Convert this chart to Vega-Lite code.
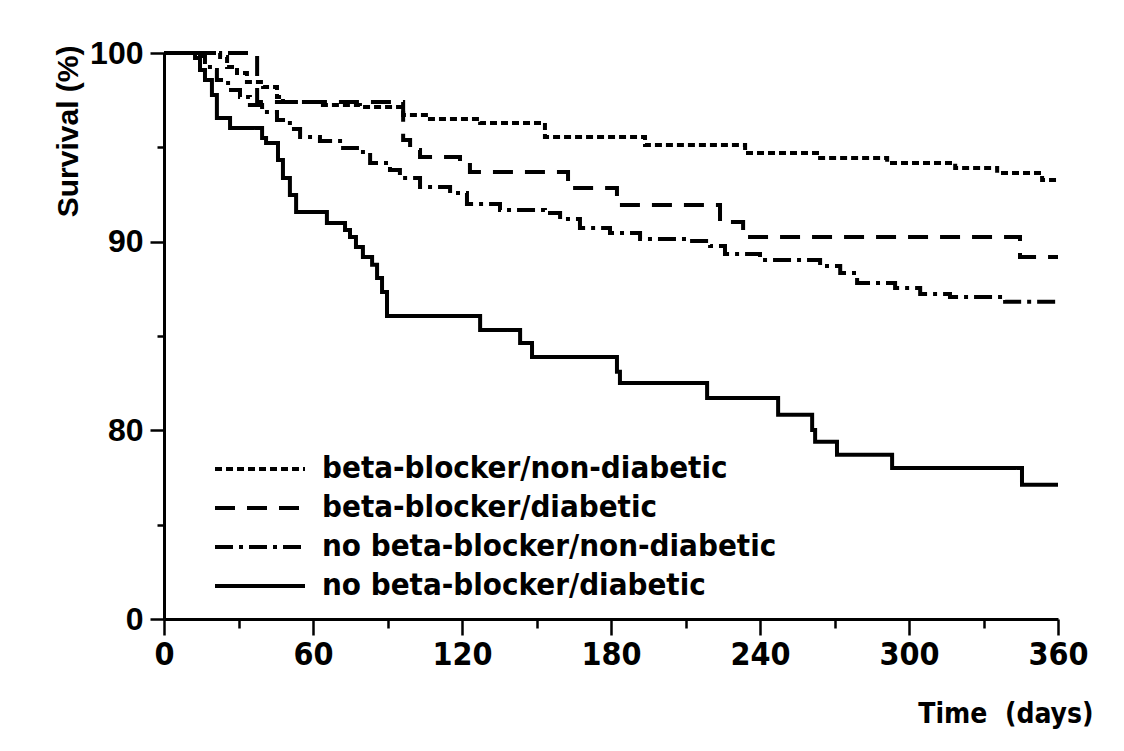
{
  "$schema": "https://vega.github.io/schema/vega-lite/v6.json",
  "width": 894,
  "height": 566,
  "autosize": {"type": "none"},
  "padding": {"left": 164, "top": 53, "right": 66, "bottom": 132},
  "background": "white",
  "config": {"view": {"stroke": null}, "font": "Liberation Sans"},
  "datasets": {
    "km": [
      {"group": "no beta-blocker/diabetic", "day": 0, "surv": 100},
      {"group": "no beta-blocker/diabetic", "day": 12.5, "surv": 99.74},
      {"group": "no beta-blocker/diabetic", "day": 14.5, "surv": 99.1},
      {"group": "no beta-blocker/diabetic", "day": 16.5, "surv": 98.57},
      {"group": "no beta-blocker/diabetic", "day": 19.3, "surv": 97.77},
      {"group": "no beta-blocker/diabetic", "day": 21.3, "surv": 96.56},
      {"group": "no beta-blocker/diabetic", "day": 26.6, "surv": 96.03},
      {"group": "no beta-blocker/diabetic", "day": 39.5, "surv": 95.5},
      {"group": "no beta-blocker/diabetic", "day": 41.1, "surv": 95.23},
      {"group": "no beta-blocker/diabetic", "day": 45.9, "surv": 94.33},
      {"group": "no beta-blocker/diabetic", "day": 47.9, "surv": 93.38},
      {"group": "no beta-blocker/diabetic", "day": 50.7, "surv": 92.48},
      {"group": "no beta-blocker/diabetic", "day": 53.2, "surv": 91.57},
      {"group": "no beta-blocker/diabetic", "day": 65.6, "surv": 90.99},
      {"group": "no beta-blocker/diabetic", "day": 72.9, "surv": 90.62},
      {"group": "no beta-blocker/diabetic", "day": 74.9, "surv": 90.25},
      {"group": "no beta-blocker/diabetic", "day": 77.3, "surv": 89.72},
      {"group": "no beta-blocker/diabetic", "day": 80.1, "surv": 89.19},
      {"group": "no beta-blocker/diabetic", "day": 83.8, "surv": 88.77},
      {"group": "no beta-blocker/diabetic", "day": 85.8, "surv": 88.08},
      {"group": "no beta-blocker/diabetic", "day": 87.8, "surv": 87.33},
      {"group": "no beta-blocker/diabetic", "day": 89.8, "surv": 86.06},
      {"group": "no beta-blocker/diabetic", "day": 127.3, "surv": 85.32},
      {"group": "no beta-blocker/diabetic", "day": 143.4, "surv": 84.63},
      {"group": "no beta-blocker/diabetic", "day": 148.2, "surv": 83.89},
      {"group": "no beta-blocker/diabetic", "day": 182.4, "surv": 83.1},
      {"group": "no beta-blocker/diabetic", "day": 183.6, "surv": 82.51},
      {"group": "no beta-blocker/diabetic", "day": 218.7, "surv": 81.72},
      {"group": "no beta-blocker/diabetic", "day": 247.3, "surv": 80.82},
      {"group": "no beta-blocker/diabetic", "day": 261.0, "surv": 80.02},
      {"group": "no beta-blocker/diabetic", "day": 262.2, "surv": 79.39},
      {"group": "no beta-blocker/diabetic", "day": 271.0, "surv": 78.7},
      {"group": "no beta-blocker/diabetic", "day": 293.2, "surv": 78.01},
      {"group": "no beta-blocker/diabetic", "day": 345.5, "surv": 77.11},
      {"group": "no beta-blocker/diabetic", "day": 360, "surv": 77.11},

      {"group": "beta-blocker/non-diabetic", "day": 0, "surv": 100},
      {"group": "beta-blocker/non-diabetic", "day": 22.6, "surv": 99.79},
      {"group": "beta-blocker/non-diabetic", "day": 25.4, "surv": 99.26},
      {"group": "beta-blocker/non-diabetic", "day": 29.4, "surv": 98.94},
      {"group": "beta-blocker/non-diabetic", "day": 33.4, "surv": 98.46},
      {"group": "beta-blocker/non-diabetic", "day": 39.9, "surv": 98.2},
      {"group": "beta-blocker/non-diabetic", "day": 45.5, "surv": 97.67},
      {"group": "beta-blocker/non-diabetic", "day": 47.9, "surv": 97.4},
      {"group": "beta-blocker/non-diabetic", "day": 62.8, "surv": 97.24},
      {"group": "beta-blocker/non-diabetic", "day": 78.9, "surv": 97.14},
      {"group": "beta-blocker/non-diabetic", "day": 96.3, "surv": 96.71},
      {"group": "beta-blocker/non-diabetic", "day": 107.1, "surv": 96.5},
      {"group": "beta-blocker/non-diabetic", "day": 127.3, "surv": 96.29},
      {"group": "beta-blocker/non-diabetic", "day": 153.4, "surv": 95.55},
      {"group": "beta-blocker/non-diabetic", "day": 193.7, "surv": 95.12},
      {"group": "beta-blocker/non-diabetic", "day": 234.0, "surv": 94.7},
      {"group": "beta-blocker/non-diabetic", "day": 264.2, "surv": 94.44},
      {"group": "beta-blocker/non-diabetic", "day": 291.2, "surv": 94.17},
      {"group": "beta-blocker/non-diabetic", "day": 318.6, "surv": 93.91},
      {"group": "beta-blocker/non-diabetic", "day": 335.5, "surv": 93.64},
      {"group": "beta-blocker/non-diabetic", "day": 353.6, "surv": 93.27},
      {"group": "beta-blocker/non-diabetic", "day": 360, "surv": 93.27},

      {"group": "beta-blocker/diabetic", "day": 0, "surv": 100},
      {"group": "beta-blocker/diabetic", "day": 37.5, "surv": 97.4},
      {"group": "beta-blocker/diabetic", "day": 96.3, "surv": 95.39},
      {"group": "beta-blocker/diabetic", "day": 99.1, "surv": 94.86},
      {"group": "beta-blocker/diabetic", "day": 103.1, "surv": 94.49},
      {"group": "beta-blocker/diabetic", "day": 119.2, "surv": 94.06},
      {"group": "beta-blocker/diabetic", "day": 123.2, "surv": 93.69},
      {"group": "beta-blocker/diabetic", "day": 162.7, "surv": 92.85},
      {"group": "beta-blocker/diabetic", "day": 182.4, "surv": 91.94},
      {"group": "beta-blocker/diabetic", "day": 223.9, "surv": 91.04},
      {"group": "beta-blocker/diabetic", "day": 233.2, "surv": 90.25},
      {"group": "beta-blocker/diabetic", "day": 344.7, "surv": 89.19},
      {"group": "beta-blocker/diabetic", "day": 360, "surv": 89.19},

      {"group": "no beta-blocker/non-diabetic", "day": 0, "surv": 100},
      {"group": "no beta-blocker/non-diabetic", "day": 14.5, "surv": 99.84},
      {"group": "no beta-blocker/non-diabetic", "day": 16.5, "surv": 99.52},
      {"group": "no beta-blocker/non-diabetic", "day": 18.5, "surv": 99.1},
      {"group": "no beta-blocker/non-diabetic", "day": 21.3, "surv": 98.57},
      {"group": "no beta-blocker/non-diabetic", "day": 25.8, "surv": 98.04},
      {"group": "no beta-blocker/non-diabetic", "day": 30.6, "surv": 97.67},
      {"group": "no beta-blocker/non-diabetic", "day": 34.6, "surv": 97.24},
      {"group": "no beta-blocker/non-diabetic", "day": 39.5, "surv": 96.87},
      {"group": "no beta-blocker/non-diabetic", "day": 45.5, "surv": 96.45},
      {"group": "no beta-blocker/non-diabetic", "day": 50.7, "surv": 95.97},
      {"group": "no beta-blocker/non-diabetic", "day": 54.8, "surv": 95.55},
      {"group": "no beta-blocker/non-diabetic", "day": 62.8, "surv": 95.34},
      {"group": "no beta-blocker/non-diabetic", "day": 70.9, "surv": 94.97},
      {"group": "no beta-blocker/non-diabetic", "day": 77.7, "surv": 94.75},
      {"group": "no beta-blocker/non-diabetic", "day": 83.0, "surv": 94.17},
      {"group": "no beta-blocker/non-diabetic", "day": 91.0, "surv": 93.8},
      {"group": "no beta-blocker/non-diabetic", "day": 95.0, "surv": 93.38},
      {"group": "no beta-blocker/non-diabetic", "day": 103.1, "surv": 92.9},
      {"group": "no beta-blocker/non-diabetic", "day": 115.2, "surv": 92.58},
      {"group": "no beta-blocker/non-diabetic", "day": 122.0, "surv": 92.0},
      {"group": "no beta-blocker/non-diabetic", "day": 135.3, "surv": 91.68},
      {"group": "no beta-blocker/non-diabetic", "day": 153.4, "surv": 91.52},
      {"group": "no beta-blocker/non-diabetic", "day": 159.5, "surv": 91.2},
      {"group": "no beta-blocker/non-diabetic", "day": 167.5, "surv": 90.73},
      {"group": "no beta-blocker/non-diabetic", "day": 179.6, "surv": 90.46},
      {"group": "no beta-blocker/non-diabetic", "day": 191.7, "surv": 90.14},
      {"group": "no beta-blocker/non-diabetic", "day": 211.8, "surv": 90.04},
      {"group": "no beta-blocker/non-diabetic", "day": 219.9, "surv": 89.77},
      {"group": "no beta-blocker/non-diabetic", "day": 225.9, "surv": 89.35},
      {"group": "no beta-blocker/non-diabetic", "day": 240.0, "surv": 89.03},
      {"group": "no beta-blocker/non-diabetic", "day": 264.2, "surv": 88.71},
      {"group": "no beta-blocker/non-diabetic", "day": 272.3, "surv": 88.34},
      {"group": "no beta-blocker/non-diabetic", "day": 279.1, "surv": 87.81},
      {"group": "no beta-blocker/non-diabetic", "day": 294.4, "surv": 87.55},
      {"group": "no beta-blocker/non-diabetic", "day": 304.5, "surv": 87.23},
      {"group": "no beta-blocker/non-diabetic", "day": 316.5, "surv": 87.07},
      {"group": "no beta-blocker/non-diabetic", "day": 338.7, "surv": 86.81},
      {"group": "no beta-blocker/non-diabetic", "day": 360, "surv": 86.81}
    ]
  },
  "data": {"name": "km"},
  "mark": {"type": "line", "interpolate": "step-after", "color": "black", "strokeWidth": 4},
  "encoding": {
    "x": {
      "field": "day",
      "type": "quantitative",
      "scale": {"domain": [0, 360], "nice": false, "zero": false},
      "axis": {
        "values": [0, 30, 60, 90, 120, 150, 180, 210, 240, 270, 300, 330, 360],
        "labelExpr": "datum.value % 60 === 0 ? datum.label : ''",
        "tickSize": {"condition": {"test": "datum.value % 60 === 0", "value": 16}, "value": 9},
        "tickWidth": 2.5,
        "tickColor": "black",
        "domainColor": "black",
        "domainWidth": 3,
        "grid": false,
        "labelFont": "DejaVu Sans Condensed",
        "labelFontWeight": "bold",
        "labelFontSize": 32,
        "labelColor": "black",
        "labelPadding": 4,
        "labelFlush": false,
        "labelOverlap": false,
        "title": "Time\u00a0 (days)",
        "titleFont": "DejaVu Sans Condensed",
        "titleFontWeight": "bold",
        "titleFontSize": 28,
        "titleColor": "black",
        "titleAlign": "right",
        "titleAnchor": "end",
        "titleBaseline": "alphabetic",
        "titleX": 929,
        "titleY": 103
      }
    },
    "y": {
      "field": "surv",
      "type": "quantitative",
      "scale": {"domain": [70, 100], "nice": false, "zero": false},
      "axis": {
        "values": [70, 75, 80, 85, 90, 95, 100],
        "labelExpr": "datum.value === 70 ? '0' : (datum.value % 10 === 0 ? datum.label : '')",
        "tickSize": {"condition": {"test": "datum.value % 10 === 0", "value": 14}, "value": 7},
        "tickWidth": 2.5,
        "tickColor": "black",
        "domainColor": "black",
        "domainWidth": 3,
        "grid": false,
        "labelFont": "Liberation Sans",
        "labelFontWeight": "bold",
        "labelFontSize": 32,
        "labelColor": "black",
        "labelPadding": 7,
        "labelFlush": false,
        "labelOverlap": false,
        "title": "Survival (%)",
        "titleFont": "Liberation Sans",
        "titleFontWeight": "bold",
        "titleFontSize": 30,
        "titleColor": "black",
        "titleAngle": 270,
        "titleAlign": "right",
        "titleAnchor": "start",
        "titleBaseline": "alphabetic",
        "titleX": -87,
        "titleY": -8
      }
    },
    "strokeDash": {
      "field": "group",
      "type": "nominal",
      "scale": {
        "domain": ["beta-blocker/non-diabetic", "beta-blocker/diabetic", "no beta-blocker/non-diabetic", "no beta-blocker/diabetic"],
        "range": [[7, 4], [20, 12], [18, 6, 4, 6], [1, 0]]
      },
      "legend": {
        "orient": "none",
        "legendX": 79,
        "legendY": 399,
        "title": null,
        "symbolType": "M-3,0H3",
        "symbolSize": 900,
        "symbolStrokeWidth": 4,
        "symbolStrokeColor": "black",
        "symbolFillColor": "transparent",
        "labelFont": "DejaVu Sans Condensed",
        "labelFontWeight": "bold",
        "labelFontSize": 31,
        "labelColor": "black",
        "labelOffset": 45,
        "labelLimit": 0,
        "rowPadding": 7
      }
    }
  }
}
